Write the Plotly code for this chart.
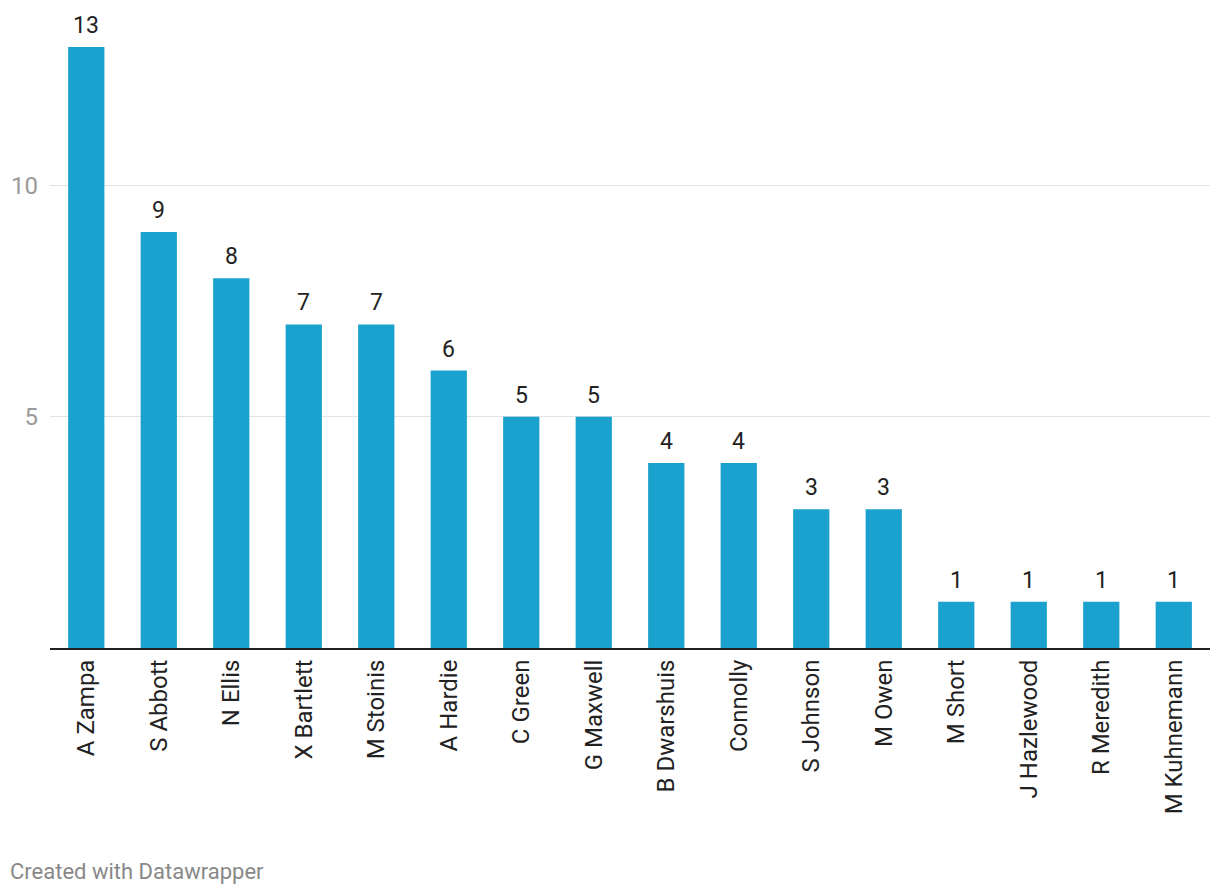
import plotly.graph_objects as go

players = ["A Zampa", "S Abbott", "N Ellis", "X Bartlett", "M Stoinis", "A Hardie",
           "C Green", "G Maxwell", "B Dwarshuis", "Connolly", "S Johnson", "M Owen",
           "M Short", "J Hazlewood", "R Meredith", "M Kuhnemann"]
wickets = [13, 9, 8, 7, 7, 6, 5, 5, 4, 4, 3, 3, 1, 1, 1, 1]
y_ticks = [5, 10]

W, H = 1220, 896
OFF = 8  # page body margin
ml, mr, mt, mb = 50 - OFF, 10 + OFF, 47 - OFF, 248 + OFF

fig = go.Figure()
fig.add_trace(go.Bar(
    x=players, y=wickets, marker_color="#1aa1cd", marker_line_width=0,
    hoverinfo="skip"
))

for p, v in zip(players, wickets):
    fig.add_annotation(x=p, y=v, text=str(v), showarrow=False, yanchor="bottom",
                       yshift=6, font=dict(family="Roboto", size=23, color="#222222"))

plot_w = W - ml - mr
plot_h = H - mt - mb
fig.add_annotation(xref="paper", yref="paper", x=(8 - 50) / plot_w,
                   y=-(871 - 648) / plot_h, xanchor="left", yanchor="middle",
                   text="Created with Datawrapper", showarrow=False,
                   font=dict(family="Roboto", size=22, color="#888888"))

fig.update_layout(
    width=W, height=H,
    margin=dict(l=ml, r=mr, t=mt, b=mb, autoexpand=False),
    paper_bgcolor="white", plot_bgcolor="white",
    bargap=0.5, showlegend=False,
    font=dict(family="Roboto"),
    xaxis=dict(tickangle=-90, tickfont=dict(family="Roboto", size=24, color="#222222"),
               showline=True, linecolor="#222222", linewidth=2, ticks="",
               showgrid=False, fixedrange=True),
    yaxis=dict(range=[0, 13], tickvals=y_ticks, ticktext=[str(t) for t in y_ticks],
               tickfont=dict(family="Roboto", size=24, color="#9a9a9a"),
               showgrid=True, gridcolor="#e2e2e2", gridwidth=1, zeroline=False,
               ticks="", ticklabelstandoff=11, fixedrange=True),
)

fig.write_html("out.html")
